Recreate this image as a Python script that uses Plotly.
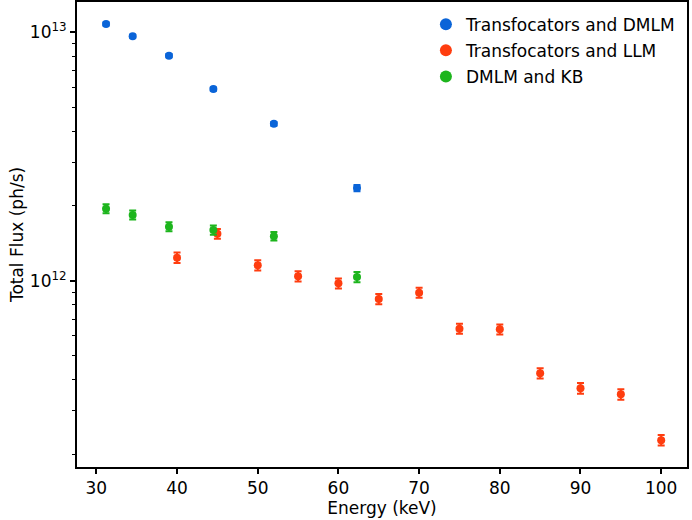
import plotly.graph_objects as go

# Transfocators and DMLM
e_dmlm = [31.2, 34.5, 39.0, 44.5, 52.0, 62.3]
f_dmlm = [1.08e13, 9.64e12, 8.05e12, 5.91e12, 4.28e12, 2.36e12]
err_dmlm = [1.5e11, 1.4e11, 1.2e11, 9e10, 7e10, 7e10]

# Transfocators and LLM
e_llm = [40, 45, 50, 55, 60, 65, 70, 75, 80, 85, 90, 95, 100]
f_llm = [1.238e12, 1.546e12, 1.153e12, 1.042e12, 9.76e11, 8.44e11, 8.95e11,
         6.41e11, 6.37e11, 4.24e11, 3.69e11, 3.49e11, 2.28e11]
err_llm = [6e10, 7e10, 5.5e10, 5e10, 4.5e10, 4e10, 4.2e10, 3e10, 3e10, 2e10,
           1.8e10, 1.7e10, 1.1e10]

# DMLM and KB
e_kb = [31.2, 34.5, 39.0, 44.5, 52.0, 62.3]
f_kb = [1.95e12, 1.84e12, 1.65e12, 1.60e12, 1.51e12, 1.035e12]
err_kb = [8e10, 7.5e10, 7e10, 7e10, 6e10, 5e10]

x_ticks = [30, 40, 50, 60, 70, 80, 90, 100]
y_major = [1e12, 1e13]
y_major_text = ["10<sup>12</sup>", "10<sup>13</sup>"]
y_minor = [2e11, 3e11, 4e11, 5e11, 6e11, 7e11, 8e11, 9e11,
           2e12, 3e12, 4e12, 5e12, 6e12, 7e12, 8e12, 9e12]

series = [
    ("Transfocators and DMLM", e_dmlm, f_dmlm, err_dmlm, "#0a64d8"),
    ("Transfocators and LLM", e_llm, f_llm, err_llm, "#ff3d0f"),
    ("DMLM and KB", e_kb, f_kb, err_kb, "#1db51d"),
]

fig = go.Figure()
for name, x, y, err, col in series:
    fig.add_trace(go.Scatter(
        x=x, y=y, name=name, mode="markers", legendgroup=name,
        marker=dict(color=col, size=8, symbol="circle"),
        error_y=dict(type="data", array=err, visible=True, color=col,
                     thickness=2, width=3.5),
    ))

font = "DejaVu Sans, sans-serif"
fig.update_layout(
    width=692, height=520,
    margin=dict(l=77, r=5, t=2, b=53, autoexpand=False),
    paper_bgcolor="white", plot_bgcolor="white",
    font=dict(family=font, size=17, color="black"),
    showlegend=True,
    legend=dict(x=0.99, y=0.99, xanchor="right", yanchor="top",
                bgcolor="rgba(0,0,0,0)", font=dict(size=17),
                itemsizing="constant", tracegroupgap=1),
    xaxis=dict(
        range=[27.6, 103.2], tickvals=x_ticks, ticks="outside", ticklen=5,
        tickwidth=1.5, tickcolor="black", showline=True, linecolor="black",
        linewidth=2, mirror=True, showgrid=False, zeroline=False,
        automargin=False,
        title=dict(text="Energy (keV)", standoff=2, font=dict(size=17)),
        tickfont=dict(size=17),
    ),
    yaxis=dict(
        type="log", range=[11.25, 13.122], tickvals=y_major,
        ticktext=y_major_text, ticks="outside", ticklen=5, tickwidth=1.5,
        tickcolor="black", showline=True, linecolor="black", linewidth=2,
        mirror=True, showgrid=False, zeroline=False, automargin=False,
        title=dict(text="Total Flux (ph/s)", standoff=2, font=dict(size=17)),
        tickfont=dict(size=17),
        minor=dict(tickvals=y_minor, ticks="outside", ticklen=3,
                   tickwidth=1.2, tickcolor="black", showgrid=False),
    ),
)

fig.write_html("out.html", config={"displayModeBar": False},
               post_script="document.body.style.margin='0';")
